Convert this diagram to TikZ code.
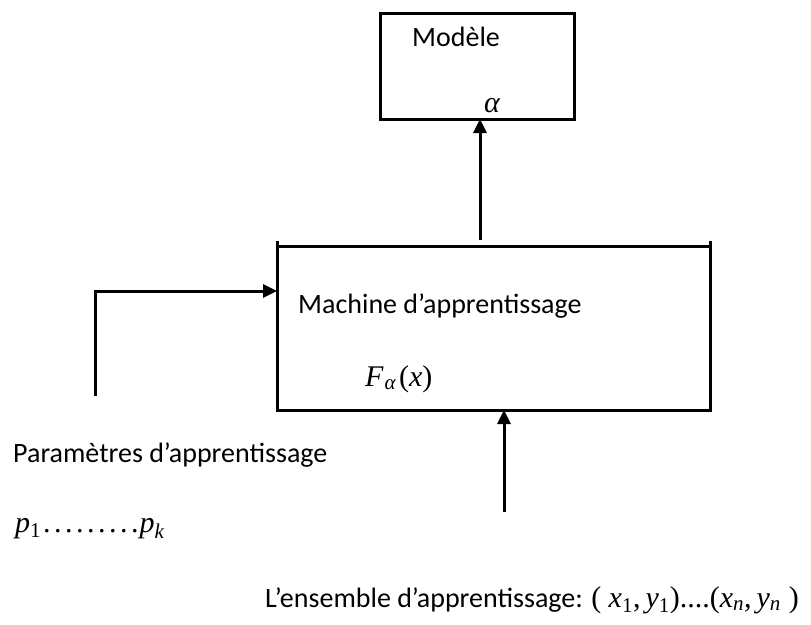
\documentclass[tikz,border=0pt]{standalone}
\usepackage{fontspec}
\setmainfont{Carlito}
\newfontfamily\tms{Liberation Serif}
\usetikzlibrary{arrows.meta}
\tikzset{
  px/.style={x=1pt,y=-1pt},
  frame/.style={draw=black,line width=3pt},
  link/.style={draw=black,line width=3pt,-{Triangle[length=14pt,width=13pt]}},
  lbl/.style={inner sep=0pt,anchor=base west,font=\fontsize{28}{32}\selectfont},
  mth/.style={inner sep=0pt,anchor=base west,font=\fontsize{30}{34}\selectfont\tms\itshape}
}
% subscripts: italic letters, upright digits
\newcommand{\sbs}[1]{\textsubscript{#1}}
\newcommand{\sbu}[1]{\textsubscript{\upshape #1}}
% one widely spaced dot
\newcommand{\wdot}{.\kern3.5pt}
\begin{document}
\begin{tikzpicture}[px]
\useasboundingbox (0,0) rectangle (811,624);
% model box
\draw[frame] (380,13) rectangle (574,119);
\coordinate (modelbot) at (480,119);
\node[lbl] (model) at (412,46) {Modèle};
\node[mth] (alpha) at (484,112) {α};
% learning machine box (side edges stand slightly above the top edge)
\draw[frame] (277,241) -- (277,410) -- (710,410) -- (710,241);
\draw[frame] (277,246) -- (710,246);
\coordinate (machtop) at (480,240);
\coordinate (machleft) at (277,291);
\coordinate (machbot) at (504,410);
\node[lbl] (mach) at (298,313) {Machine d’apprentissage};
\node[mth] (F) at (365,386) {F\kern1pt\sbs{α}\kern3pt\upshape(\itshape x\upshape)};
% parameters input
\coordinate (pstart) at (95,396);
\coordinate (pcorner) at (95,291);
\draw[link] (pstart) -- (pcorner) -- (machleft);
\node[lbl] (params) at (13,462) {Paramètres d’apprentissage};
\node[mth] (pk) at (15,532) {p\sbu{1}\upshape\kern2pt\wdot\wdot\wdot\wdot\wdot\wdot\wdot\wdot.\kern1pt\itshape p\sbs{k}};
% training set input
\coordinate (sstart) at (504,512);
\draw[link] (sstart) -- (machbot);
\node[lbl] (set) at (265,607) {L’ensemble d’apprentissage: {\tms\fontsize{30}{34}\selectfont( \itshape x\sbu{1}\upshape,\kern5pt\itshape y\sbu{1}\upshape)....(\itshape x\sbs{n}\upshape,\kern5pt\itshape y\sbs{n}\kern8pt\upshape)}};
% output to model
\draw[link] (machtop) -- (modelbot);
\end{tikzpicture}
\end{document}
